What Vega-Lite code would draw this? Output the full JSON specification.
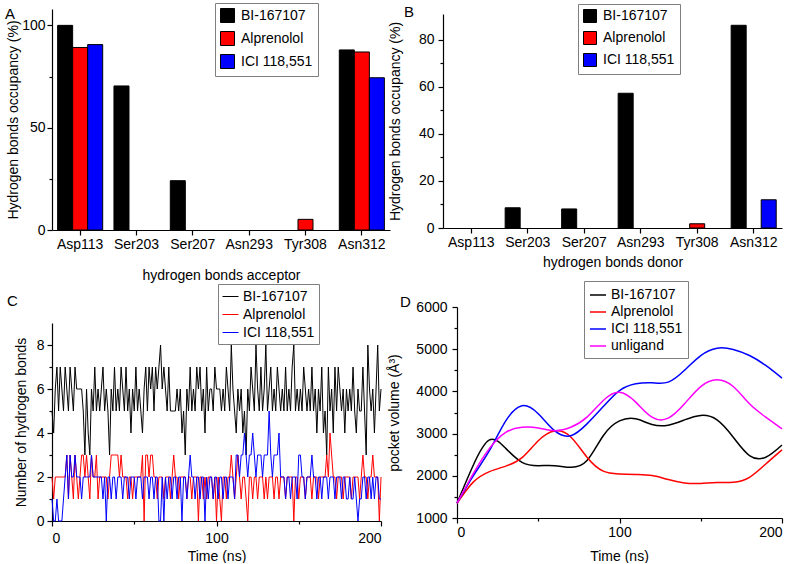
{
"$schema": "https://vega.github.io/schema/vega-lite/v6.json",
"padding": {"left": 5, "top": 2, "right": 0, "bottom": 0},
"config": {
  "font": "Liberation Sans",
  "view": {"stroke": null},
  "axis": {"labelFontSize": 14, "titleFontSize": 14, "titleFontWeight": "normal", "labelColor": "#000", "titleColor": "#000", "domainColor": "#000", "tickColor": "#000", "grid": false, "tickSize": 5, "labelPadding": 2, "domainWidth": 1.2, "tickWidth": 1.2},
  "legend": {"labelFontSize": 14, "labelColor": "#000", "strokeColor": "#7f7f7f", "fillColor": "#ffffff", "padding": 5, "labelOffset": 6, "title": null},
  "title": {"fontSize": 15, "fontWeight": "normal", "color": "#000", "anchor": "start", "frame": "group", "offset": 0, "baseline": "alphabetic"}
},
"datasets": {
  "acc": [
    {"res": "Asp113", "lig": "BI-167107", "v": 100},
    {"res": "Asp113", "lig": "Alprenolol", "v": 89.2},
    {"res": "Asp113", "lig": "ICI 118,551", "v": 90.6},
    {"res": "Ser203", "lig": "BI-167107", "v": 70.4},
    {"res": "Ser207", "lig": "BI-167107", "v": 24.1},
    {"res": "Tyr308", "lig": "Alprenolol", "v": 5.2},
    {"res": "Asn312", "lig": "BI-167107", "v": 88.0},
    {"res": "Asn312", "lig": "Alprenolol", "v": 87.0},
    {"res": "Asn312", "lig": "ICI 118,551", "v": 74.4}
  ],
  "don": [
    {"res": "Ser203", "lig": "BI-167107", "v": 8.6},
    {"res": "Ser207", "lig": "BI-167107", "v": 8.1},
    {"res": "Asn293", "lig": "BI-167107", "v": 57.3},
    {"res": "Tyr308", "lig": "Alprenolol", "v": 1.8},
    {"res": "Asn312", "lig": "BI-167107", "v": 86.2},
    {"res": "Asn312", "lig": "ICI 118,551", "v": 12.0}
  ],
  "hb": [
{"t":0,"b":5,"a":2,"i":1},{"t":1,"b":4,"a":1,"i":0},{"t":2,"b":6,"a":2,"i":0},{"t":3,"b":7,"a":2,"i":1},{"t":4,"b":5,"a":2,"i":0},
{"t":5,"b":7,"a":2,"i":0},{"t":6,"b":6,"a":2,"i":0},{"t":7,"b":5,"a":2,"i":1},{"t":8,"b":7,"a":2,"i":2},{"t":9,"b":6,"a":3,"i":3},
{"t":10,"b":5,"a":1,"i":1},{"t":11,"b":7,"a":3,"i":3},{"t":12,"b":6,"a":2,"i":2},{"t":13,"b":5,"a":1,"i":2},{"t":14,"b":7,"a":3,"i":3},
{"t":15,"b":6,"a":2,"i":2},{"t":16,"b":6,"a":1,"i":2},{"t":17,"b":6,"a":2,"i":2},{"t":18,"b":6,"a":3,"i":1},{"t":19,"b":5,"a":3,"i":2},
{"t":20,"b":3,"a":2,"i":2},{"t":21,"b":6,"a":3,"i":2},{"t":22,"b":4,"a":2,"i":2},{"t":23,"b":3,"a":1,"i":2},{"t":24,"b":6,"a":3,"i":3},
{"t":25,"b":5,"a":2,"i":2},{"t":26,"b":7,"a":2,"i":2},{"t":27,"b":5,"a":3,"i":2},{"t":28,"b":6,"a":1,"i":2},{"t":29,"b":5,"a":2,"i":2},
{"t":30,"b":6,"a":2,"i":2},{"t":31,"b":7,"a":2,"i":1},{"t":32,"b":5,"a":2,"i":2},{"t":33,"b":6,"a":2,"i":0},{"t":34,"b":5,"a":1,"i":2},
{"t":35,"b":3,"a":2,"i":2},{"t":36,"b":6,"a":3,"i":1},{"t":37,"b":5,"a":3,"i":2},{"t":38,"b":7,"a":3,"i":2},{"t":39,"b":5,"a":3,"i":1},
{"t":40,"b":6,"a":3,"i":2},{"t":41,"b":5,"a":2,"i":2},{"t":42,"b":7,"a":3,"i":2},{"t":43,"b":6,"a":2,"i":1},{"t":44,"b":5,"a":2,"i":2},
{"t":45,"b":7,"a":2,"i":2},{"t":46,"b":5,"a":1,"i":2},{"t":47,"b":6,"a":2,"i":1},{"t":48,"b":4,"a":2,"i":2},{"t":49,"b":6,"a":1,"i":2},
{"t":50,"b":5,"a":2,"i":2},{"t":51,"b":7,"a":2,"i":1},{"t":52,"b":5,"a":2,"i":2},{"t":53,"b":6,"a":2,"i":2},{"t":54,"b":5,"a":2,"i":2},
{"t":55,"b":4,"a":3,"i":1},{"t":56,"b":6,"a":0,"i":2},{"t":57,"b":7,"a":3,"i":2},{"t":58,"b":5,"a":3,"i":2},{"t":59,"b":7,"a":2,"i":1},
{"t":60,"b":6,"a":3,"i":2},{"t":61,"b":7,"a":3,"i":2},{"t":62,"b":5,"a":2,"i":1},{"t":63,"b":7,"a":2,"i":2},{"t":64,"b":6,"a":1,"i":2},
{"t":65,"b":7,"a":2,"i":0},{"t":66,"b":8,"a":2,"i":0},{"t":67,"b":6,"a":2,"i":2},{"t":68,"b":7,"a":1,"i":0},{"t":69,"b":6,"a":2,"i":2},
{"t":70,"b":5,"a":2,"i":1},{"t":71,"b":7,"a":2,"i":2},{"t":72,"b":5,"a":1,"i":2},{"t":73,"b":5,"a":2,"i":1},{"t":74,"b":5,"a":3,"i":2},
{"t":75,"b":5,"a":2,"i":2},{"t":76,"b":6,"a":2,"i":1},{"t":77,"b":5,"a":1,"i":2},{"t":78,"b":6,"a":2,"i":2},{"t":79,"b":4,"a":2,"i":0},
{"t":80,"b":5,"a":2,"i":2},{"t":81,"b":3,"a":2,"i":2},{"t":82,"b":6,"a":1,"i":1},{"t":83,"b":5,"a":2,"i":2},{"t":84,"b":7,"a":2,"i":3},
{"t":85,"b":5,"a":1,"i":2},{"t":86,"b":6,"a":2,"i":2},{"t":87,"b":5,"a":2,"i":1},{"t":88,"b":7,"a":2,"i":2},{"t":89,"b":6,"a":0,"i":2},
{"t":90,"b":7,"a":2,"i":1},{"t":91,"b":5,"a":2,"i":2},{"t":92,"b":6,"a":1,"i":2},{"t":93,"b":4,"a":2,"i":0},{"t":94,"b":7,"a":1,"i":2},
{"t":95,"b":5,"a":2,"i":1},{"t":96,"b":6,"a":2,"i":2},{"t":97,"b":6,"a":2,"i":2},{"t":98,"b":5,"a":1,"i":1},{"t":99,"b":7,"a":2,"i":2},
{"t":100,"b":6,"a":0,"i":2},{"t":101,"b":6,"a":2,"i":1},{"t":102,"b":6,"a":1,"i":2},{"t":103,"b":5,"a":0,"i":2},{"t":104,"b":6,"a":2,"i":1},
{"t":105,"b":5,"a":2,"i":2},{"t":106,"b":7,"a":1,"i":2},{"t":107,"b":6,"a":2,"i":1},{"t":108,"b":5,"a":2,"i":2},{"t":109,"b":8,"a":3,"i":2},
{"t":110,"b":6,"a":2,"i":2},{"t":111,"b":5,"a":1,"i":1},{"t":112,"b":4,"a":2,"i":3},{"t":113,"b":6,"a":3,"i":3},{"t":114,"b":5,"a":2,"i":2},
{"t":115,"b":6,"a":1,"i":3},{"t":116,"b":4,"a":2,"i":3},{"t":117,"b":5,"a":2,"i":4},{"t":118,"b":3,"a":1,"i":3},{"t":119,"b":6,"a":0,"i":2},
{"t":120,"b":5,"a":2,"i":3},{"t":121,"b":7,"a":2,"i":3},{"t":122,"b":6,"a":1,"i":4},{"t":123,"b":5,"a":2,"i":3},{"t":124,"b":8,"a":2,"i":2},
{"t":125,"b":6,"a":1,"i":3},{"t":126,"b":5,"a":2,"i":3},{"t":127,"b":7,"a":2,"i":3},{"t":128,"b":5,"a":2,"i":2},{"t":129,"b":6,"a":1,"i":3},
{"t":130,"b":8,"a":2,"i":3},{"t":131,"b":5,"a":1,"i":3},{"t":132,"b":6,"a":2,"i":5},{"t":133,"b":7,"a":2,"i":3},{"t":134,"b":5,"a":2,"i":2},
{"t":135,"b":6,"a":1,"i":3},{"t":136,"b":5,"a":2,"i":3},{"t":137,"b":7,"a":2,"i":3},{"t":138,"b":6,"a":1,"i":4},{"t":139,"b":5,"a":2,"i":2},
{"t":140,"b":6,"a":2,"i":2},{"t":141,"b":5,"a":2,"i":2},{"t":142,"b":7,"a":1,"i":1},{"t":143,"b":5,"a":2,"i":2},{"t":144,"b":6,"a":2,"i":2},
{"t":145,"b":5,"a":2,"i":1},{"t":146,"b":7,"a":2,"i":2},{"t":147,"b":8,"a":0,"i":2},{"t":148,"b":5,"a":2,"i":2},{"t":149,"b":6,"a":2,"i":1},
{"t":150,"b":5,"a":1,"i":3},{"t":151,"b":6,"a":2,"i":3},{"t":152,"b":5,"a":2,"i":2},{"t":153,"b":7,"a":2,"i":2},{"t":154,"b":6,"a":1,"i":1},
{"t":155,"b":5,"a":2,"i":2},{"t":156,"b":6,"a":2,"i":2},{"t":157,"b":5,"a":2,"i":2},{"t":158,"b":7,"a":1,"i":3},{"t":159,"b":5,"a":2,"i":2},
{"t":160,"b":6,"a":2,"i":2},{"t":161,"b":4,"a":2,"i":1},{"t":162,"b":6,"a":1,"i":2},{"t":163,"b":5,"a":2,"i":2},{"t":164,"b":7,"a":2,"i":1},
{"t":165,"b":4,"a":2,"i":2},{"t":166,"b":5,"a":2,"i":2},{"t":167,"b":3,"a":3,"i":2},{"t":168,"b":7,"a":2,"i":1},{"t":169,"b":5,"a":4,"i":2},
{"t":170,"b":6,"a":3,"i":2},{"t":171,"b":4,"a":2,"i":2},{"t":172,"b":7,"a":2,"i":1},{"t":173,"b":5,"a":1,"i":2},{"t":174,"b":7,"a":2,"i":2},
{"t":175,"b":6,"a":2,"i":2},{"t":176,"b":5,"a":2,"i":1},{"t":177,"b":6,"a":1,"i":2},{"t":178,"b":4,"a":2,"i":2},{"t":179,"b":6,"a":2,"i":1},
{"t":180,"b":5,"a":2,"i":1},{"t":181,"b":6,"a":2,"i":2},{"t":182,"b":5,"a":1,"i":1},{"t":183,"b":7,"a":2,"i":1},{"t":184,"b":5,"a":2,"i":2},
{"t":185,"b":4,"a":2,"i":1},{"t":186,"b":6,"a":2,"i":0},{"t":187,"b":5,"a":1,"i":1},{"t":188,"b":5,"a":2,"i":1},{"t":189,"b":7,"a":3,"i":2},
{"t":190,"b":5,"a":2,"i":2},{"t":191,"b":3,"a":2,"i":1},{"t":192,"b":8,"a":1,"i":2},{"t":193,"b":6,"a":2,"i":2},{"t":194,"b":5,"a":2,"i":1},
{"t":195,"b":6,"a":3,"i":2},{"t":196,"b":4,"a":2,"i":1},{"t":197,"b":6,"a":2,"i":2},{"t":198,"b":8,"a":2,"i":2},{"t":199,"b":5,"a":0,"i":1},
{"t":200,"b":6,"a":2,"i":1}
  ],
  "pv": [
{"t":0,"b":1350,"a":1350,"i":1350,"u":1350},
{"t":10,"b":2250,"a":1850,"i":2000,"u":2050},
{"t":20,"b":2850,"a":2100,"i":2600,"u":2650},
{"t":30,"b":2650,"a":2230,"i":3300,"u":3030},
{"t":40,"b":2320,"a":2430,"i":3660,"u":3150},
{"t":50,"b":2240,"a":2830,"i":3470,"u":3135},
{"t":60,"b":2240,"a":3060,"i":3070,"u":3070},
{"t":70,"b":2200,"a":2920,"i":2950,"u":3150},
{"t":80,"b":2360,"a":2440,"i":3230,"u":3390},
{"t":90,"b":2950,"a":2110,"i":3640,"u":3785},
{"t":100,"b":3300,"a":2045,"i":4020,"u":3980},
{"t":110,"b":3350,"a":2030,"i":4180,"u":3745},
{"t":120,"b":3215,"a":2005,"i":4205,"u":3390},
{"t":130,"b":3200,"a":1910,"i":4220,"u":3365},
{"t":140,"b":3325,"a":1830,"i":4500,"u":3705},
{"t":150,"b":3430,"a":1820,"i":4850,"u":4115},
{"t":160,"b":3325,"a":1840,"i":5025,"u":4275},
{"t":170,"b":2915,"a":1845,"i":4995,"u":4115},
{"t":180,"b":2480,"a":1965,"i":4850,"u":3705},
{"t":190,"b":2440,"a":2280,"i":4615,"u":3390},
{"t":200,"b":2730,"a":2615,"i":4315,"u":3110}
  ]
},
"columns": 2,
"spacing": {"row": 77, "column": 52},
"bounds": "flush",
"align": "all",
"resolve": {"scale": {"x": "independent", "y": "independent", "color": "independent"}, "legend": {"color": "independent"}},
"concat": [
  {
    "width": 338, "height": 221,
    "title": {"text": "A", "dx": -47, "dy": 23.6},
    "data": {"name": "acc"},
    "mark": {"type": "bar", "stroke": "#000", "strokeWidth": 1},
    "encoding": {
      "x": {"field": "res", "type": "nominal", "sort": null,
        "scale": {"domain": ["Asp113", "Ser203", "Ser207", "Asn293", "Tyr308", "Asn312"], "paddingInner": 0.2, "paddingOuter": 0.1},
        "axis": {"title": "hydrogen bonds acceptor", "labelAngle": 0, "titlePadding": 17}},
      "xOffset": {"field": "lig", "type": "nominal", "scale": {"domain": ["BI-167107", "Alprenolol", "ICI 118,551"], "paddingInner": 0, "paddingOuter": 0}},
      "y": {"field": "v", "type": "quantitative",
        "scale": {"domain": [0, 108], "nice": false},
        "axis": {"title": "Hydrogen bonds occupancy (%)", "values": [0, 25, 50, 75, 100], "labelExpr": "datum.value % 50 == 0 ? datum.label : ''",
          "tickSize": {"condition": {"test": "datum.value % 50 == 0", "value": 5}, "value": 3}, "titlePadding": 1}},
      "color": {"field": "lig", "type": "nominal",
        "scale": {"domain": ["BI-167107", "Alprenolol", "ICI 118,551"], "range": ["#000000", "#ff0000", "#0000ff"]},
        "legend": {"orient": "none", "legendX": 163, "legendY": -6, "symbolType": "square", "symbolSize": 196, "symbolStrokeColor": "#000", "symbolStrokeWidth": 1, "rowPadding": 4}}
    }
  },
  {
    "width": 339, "height": 219,
    "title": {"text": "B", "dx": -39, "dy": 20.6},
    "data": {"name": "don"},
    "mark": {"type": "bar", "stroke": "#000", "strokeWidth": 1},
    "encoding": {
      "x": {"field": "res", "type": "nominal", "sort": null,
        "scale": {"domain": ["Asp113", "Ser203", "Ser207", "Asn293", "Tyr308", "Asn312"], "paddingInner": 0.2, "paddingOuter": 0.1},
        "axis": {"title": "hydrogen bonds donor", "labelAngle": 0, "titlePadding": 6}},
      "xOffset": {"field": "lig", "type": "nominal", "scale": {"domain": ["BI-167107", "Alprenolol", "ICI 118,551"], "paddingInner": 0, "paddingOuter": 0}},
      "y": {"field": "v", "type": "quantitative",
        "scale": {"domain": [0, 91], "range": [219, 5], "nice": false},
        "axis": {"title": "Hydrogen bonds occupancy (%)", "values": [0, 10, 20, 30, 40, 50, 60, 70, 80], "labelExpr": "datum.value % 20 == 0 ? datum.label : ''",
          "tickSize": {"condition": {"test": "datum.value % 20 == 0", "value": 5}, "value": 3}, "labelPadding": 4, "titlePadding": 16}},
      "color": {"field": "lig", "type": "nominal",
        "scale": {"domain": ["BI-167107", "Alprenolol", "ICI 118,551"], "range": ["#000000", "#ff0000", "#0000ff"]},
        "legend": {"orient": "none", "legendX": 135, "legendY": -5, "symbolType": "square", "symbolSize": 169, "symbolStrokeColor": "#000", "symbolStrokeWidth": 1, "rowPadding": 4}}
    }
  },
  {
    "width": 329, "height": 214,
    "title": {"text": "C", "dx": -45, "dy": 29},
    "data": {"name": "hb"},
    "transform": [{"fold": ["b", "a", "i"], "as": ["s", "n"]}],
    "mark": {"type": "line", "strokeWidth": 1, "interpolate": "linear"},
    "encoding": {
      "x": {"field": "t", "type": "quantitative",
        "scale": {"domain": [0, 200], "nice": false},
        "axis": {"title": "Time (ns)", "values": [0, 50, 100, 150, 200], "labelExpr": "datum.value % 100 == 0 ? datum.label : ''",
          "tickSize": {"condition": {"test": "datum.value % 100 == 0", "value": 5}, "value": 3}, "labelPadding": 5, "titlePadding": 4}},
      "y": {"field": "n", "type": "quantitative",
        "scale": {"domain": [0, 9], "range": [214, 16], "nice": false},
        "axis": {"title": "Number of hydrogen bonds", "values": [0, 1, 2, 3, 4, 5, 6, 7, 8], "labelExpr": "datum.value % 2 == 0 ? datum.label : ''",
          "tickSize": {"condition": {"test": "datum.value % 2 == 0", "value": 5}, "value": 3}, "labelPadding": 3, "titlePadding": 8, "titleY": 115}},
      "color": {"field": "s", "type": "nominal",
        "scale": {"domain": ["b", "a", "i"], "range": ["#000000", "#ff0000", "#0000ff"]},
        "legend": {"orient": "none", "legendX": 166, "legendY": -23, "symbolType": "stroke", "symbolSize": 256, "symbolStrokeWidth": 1, "rowPadding": 2, "padding": 4, "labelOffset": 4,
          "labelExpr": "datum.label == 'b' ? 'BI-167107' : datum.label == 'a' ? 'Alprenolol' : 'ICI 118,551'"}}
    }
  },
  {
    "width": 339, "height": 211,
    "title": {"text": "D", "dx": -43, "dy": 33},
    "data": {"name": "pv"},
    "transform": [{"fold": ["b", "a", "i", "u"], "as": ["s", "v"]}],
    "mark": {"type": "line", "strokeWidth": 1.5, "interpolate": "natural"},
    "encoding": {
      "x": {"field": "t", "type": "quantitative",
        "scale": {"domain": [0, 200], "range": [14, 339], "nice": false},
        "axis": {"title": "Time (ns)", "values": [0, 50, 100, 150, 200], "labelExpr": "datum.value % 100 == 0 ? datum.label : ''",
          "tickSize": {"condition": {"test": "datum.value % 100 == 0", "value": 5}, "value": 3}, "labelPadding": 2, "titlePadding": 10, "titleX": 176}},
      "y": {"field": "v", "type": "quantitative",
        "scale": {"domain": [1000, 6000], "nice": false, "zero": false},
        "axis": {"title": "pocket volume (Å³)", "format": "d", "values": [1000, 1500, 2000, 2500, 3000, 3500, 4000, 4500, 5000, 5500, 6000],
          "labelExpr": "datum.value % 1000 == 0 ? datum.label : ''",
          "tickSize": {"condition": {"test": "datum.value % 1000 == 0", "value": 5}, "value": 3}, "offset": -14, "labelPadding": 5, "titlePadding": 14}},
      "color": {"field": "s", "type": "nominal",
        "scale": {"domain": ["b", "a", "i", "u"], "range": ["#000000", "#ff0000", "#0000ff", "#ff00ff"]},
        "legend": {"orient": "none", "legendX": 141, "legendY": -26, "symbolType": "stroke", "symbolSize": 256, "symbolStrokeWidth": 1.5, "rowPadding": 1, "padding": 5, "labelOffset": 4,
          "labelExpr": "datum.label == 'b' ? 'BI-167107' : datum.label == 'a' ? 'Alprenolol' : datum.label == 'i' ? 'ICI 118,551' : 'unligand'"}}
    }
  }
]
}
